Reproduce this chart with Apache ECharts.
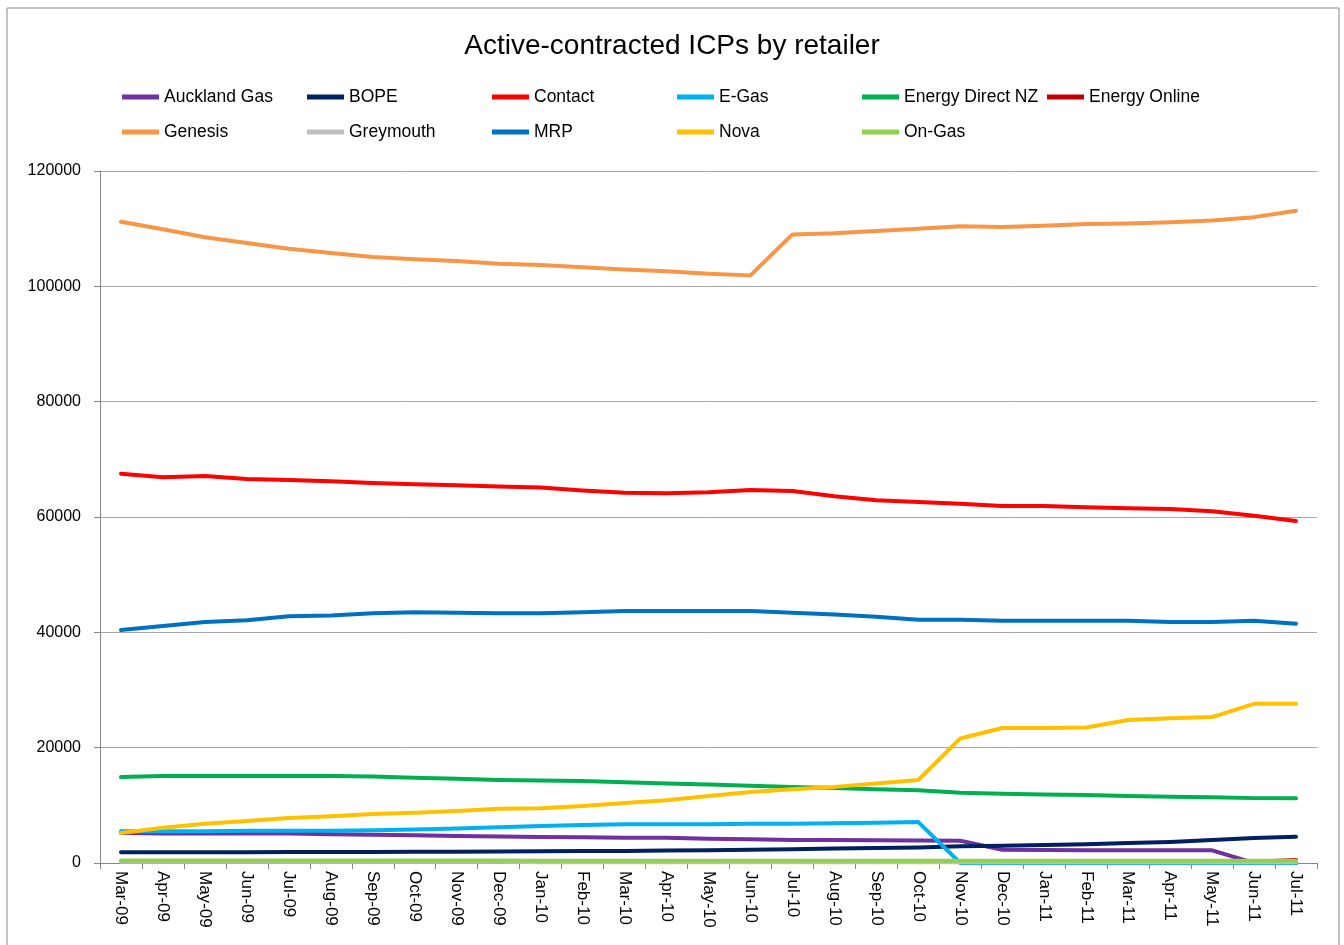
<!DOCTYPE html>
<html>
<head>
<meta charset="utf-8">
<title>Active-contracted ICPs by retailer</title>
<script src="https://cdn.jsdelivr.net/npm/echarts@6/dist/echarts.min.js"></script>
<style>
  html, body { margin: 0; padding: 0; background: #fff; }
  #chart { width: 1344px; height: 945px; }
</style>
</head>
<body>
<div id="chart"></div>
<script>
const months = ['Mar-09','Apr-09','May-09','Jun-09','Jul-09','Aug-09','Sep-09','Oct-09','Nov-09','Dec-09',
  'Jan-10','Feb-10','Mar-10','Apr-10','May-10','Jun-10','Jul-10','Aug-10','Sep-10','Oct-10','Nov-10','Dec-10',
  'Jan-11','Feb-11','Mar-11','Apr-11','May-11','Jun-11','Jul-11'];

const aucklandGas = [5200,5100,5100,5100,5100,5000,4900,4800,4700,4600,4500,4450,4400,4400,4200,4100,4000,4000,3950,3900,3850,2300,2250,2200,2200,2200,2200,0,0];
const bope = [1850,1850,1850,1850,1900,1900,1900,1950,1950,2000,2050,2080,2100,2150,2200,2300,2400,2500,2600,2700,2900,3000,3100,3250,3450,3650,4000,4350,4550];
const contact = [67500,66900,67100,66600,66400,66200,65900,65700,65500,65300,65100,64600,64200,64100,64300,64700,64500,63600,62900,62600,62300,61900,61900,61700,61500,61400,61000,60200,59300];
const eGas = [5500,5500,5500,5600,5600,5600,5700,5800,6000,6200,6400,6600,6700,6700,6700,6800,6800,6900,7000,7100,0,0,0,0,0,0,0,0,0];
const energyDirect = [14900,15100,15100,15100,15100,15100,15000,14800,14600,14400,14300,14200,14000,13800,13600,13400,13200,13000,12800,12600,12200,12000,11900,11800,11600,11500,11400,11250,11250];
const energyOnline = [null,null,null,null,null,null,null,null,null,null,null,null,null,null,null,null,null,null,null,null,null,null,null,null,null,null,null,200,500];
const genesis = [111200,109900,108500,107500,106500,105800,105100,104700,104400,103900,103700,103300,102900,102600,102200,101900,109000,109200,109600,110000,110400,110300,110500,110800,110900,111100,111400,112000,113100];
const greymouth = [200,200,200,200,200,200,200,200,200,200,150,150,150,150,150,150,150,150,150,150,150,150,150,150,150,150,150,150,150];
const mrp = [40400,41100,41800,42100,42800,42900,43300,43500,43400,43300,43300,43500,43700,43700,43700,43700,43400,43100,42700,42200,42200,42000,42000,42000,42000,41800,41800,42000,41500];
const nova = [5200,6100,6800,7300,7800,8100,8500,8700,9000,9400,9500,9900,10400,10900,11600,12300,12800,13200,13800,14400,21600,23400,23400,23500,24800,25100,25300,27600,27600];
const onGas = [450,450,450,450,450,450,450,450,450,450,400,400,400,400,400,400,400,400,400,400,400,400,400,400,400,400,400,400,400];

const seriesDefs = [
  ['Auckland Gas', aucklandGas, '#7030A0'],
  ['BOPE', bope, '#002060'],
  ['Contact', contact, '#FF0000'],
  ['E-Gas', eGas, '#00B0F0'],
  ['Energy Direct NZ', energyDirect, '#00B050'],
  ['Energy Online', energyOnline, '#C00000'],
  ['Genesis', genesis, '#F79646'],
  ['Greymouth', greymouth, '#BFBFBF'],
  ['MRP', mrp, '#0070C0'],
  ['Nova', nova, '#FFC000'],
  ['On-Gas', onGas, '#92D050']
];

const font = '"Liberation Sans", Arial, sans-serif';
const chart = echarts.init(document.getElementById('chart'));

// one legend per entry so the columns line up like the Excel grid
const legends = seriesDefs.map((d, i) => ({
  left: 122 + 185 * (i % 6),
  top: i < 6 ? 88 : 123,
  data: [d[0]],
  itemWidth: 37,
  itemHeight: 5,
  icon: 'rect',
  padding: 0,
  textStyle: { fontFamily: font, fontSize: 17.5, color: '#000' }
}));

chart.setOption({
  animation: false,
  color: seriesDefs.map(d => d[2]),
  title: {
    text: 'Active-contracted ICPs by retailer',
    left: 'center',
    top: 27,
    textStyle: { fontFamily: font, fontSize: 28, fontWeight: 'normal', color: '#000' }
  },
  legend: legends,
  graphic: [{
    type: 'rect',
    shape: { x: 7, y: 8, width: 1332, height: 960 },
    style: { fill: 'none', stroke: '#878787', lineWidth: 1 },
    silent: true
  }],
  grid: { left: 100, right: 27, top: 171, bottom: 82 },
  xAxis: {
    type: 'category',
    data: months,
    boundaryGap: true,
    axisLine: { lineStyle: { color: '#868686', width: 1 } },
    axisTick: { show: true, length: 6, lineStyle: { color: '#868686' } },
    axisLabel: { rotate: -90, fontFamily: font, fontSize: 17, color: '#000', margin: 8, interval: 0 }
  },
  yAxis: {
    type: 'value',
    min: 0,
    max: 120000,
    interval: 20000,
    axisLine: { show: true, lineStyle: { color: '#868686', width: 1 } },
    axisTick: { show: true, length: 6, lineStyle: { color: '#868686' } },
    axisLabel: { fontFamily: font, fontSize: 16, color: '#000', margin: 19, formatter: v => String(v) },
    splitLine: { lineStyle: { color: '#A6A6A6', width: 1 } }
  },
  series: seriesDefs.map(d => ({
    name: d[0],
    type: 'line',
    data: d[1],
    showSymbol: false,
    symbol: 'none',
    lineStyle: { width: 4, color: d[2], cap: 'round', join: 'round' },
    itemStyle: { color: d[2] }
  }))
});
</script>
</body>
</html>
